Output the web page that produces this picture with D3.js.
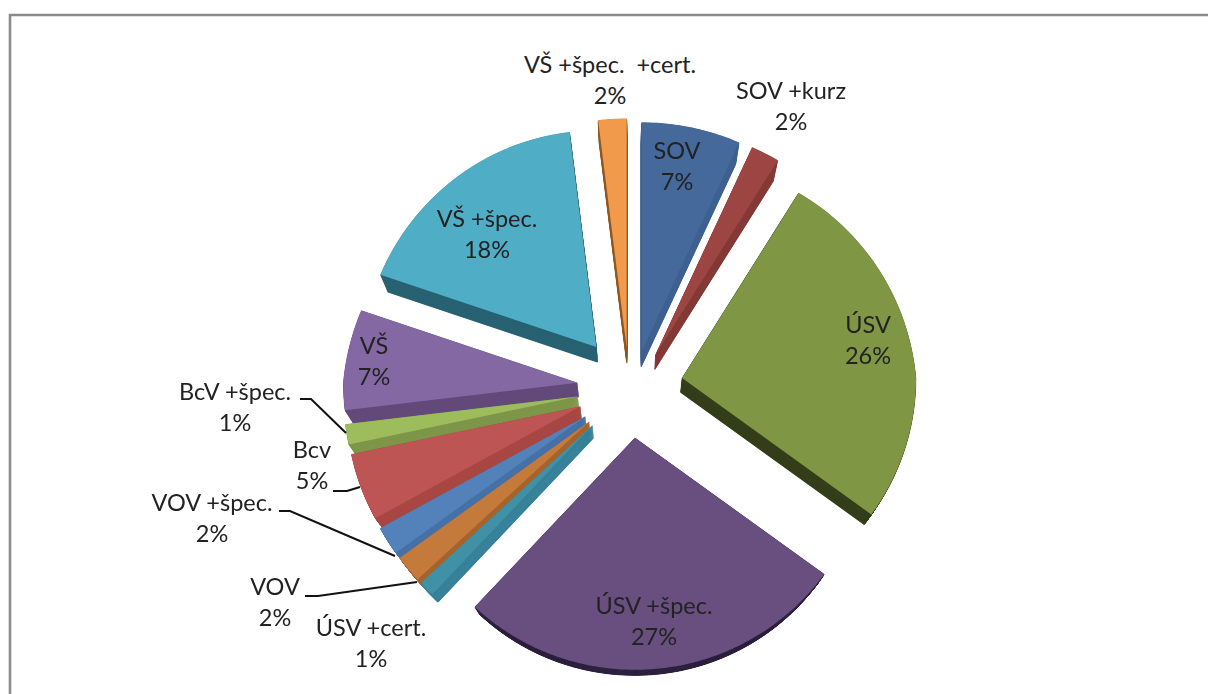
<!DOCTYPE html>
<html>
<head>
<meta charset="utf-8">
<script src="https://cdn.jsdelivr.net/npm/d3@7/dist/d3.min.js"></script>
<style>
html,body{margin:0;padding:0;background:#fff;overflow:hidden}
svg{display:block}
text{font-family:Lato,"Open Sans",sans-serif;font-size:23.5px;fill:#222;text-anchor:middle}
</style>
</head>
<body>
<svg id="chart" width="1208" height="694"></svg>
<script>
// data
const categories = ["SOV","SOV +kurz","ÚSV","ÚSV +špec.","ÚSV +cert.","VOV","VOV +špec.","Bcv","BcV +špec.","VŠ","VŠ +špec.","VŠ +špec.  +cert."];
const values = [7,2,26,27,1.1,1.9,2,4.7,1.4,7,17.9,2];
const percentLabels = ["7%","2%","26%","27%","1%","2%","2%","5%","1%","7%","18%","2%"];

// styles and layout
const faceColors = ["#44699b","#9c4543","#7f9645","#67507f","#3f90a6","#c47a3b","#5381b9","#bc5452","#9dbc5b","#8468a4","#50adc6","#f19a4b"];
const sideColors = ["#3f6292","#853936","#353f1b","#2f2340","#37829a","#a8642c","#4672a8","#a94845","#7e974a","#644b7b","#2a6373","#8e5a25"];
const pullY = [37,38,53,50,53,53,53,53,53,53,53,40];
const pullX = 53;
const sizeScale = [1.06,1.05,1,1,1,1,1,1,1,1,1,1.06];
const centre = {x:630, y:388};
const radius = {x:234, yUp:236, yDown:232};
const perspective = 0.09;
const vanish = {x:630, y:857};
const shrink = 0.97;
const labelAnchors = [[677,151],[791,91],[868,325],[654,606],[371,628],[275,587],[212,503],[312,450],[235,392],[374,346],[487,219],[610,65]];
const leaders = [
  [[300,399],[311,399],[346,433]],
  [[333,491],[347,491],[360,487]],
  [[279,511],[290,511],[395,556]],
  [[305,596],[318,596],[417,582]]
];

const svg = d3.select("#chart");

// frame
svg.append("path").attr("d","M10 694V15H1208").attr("fill","none").attr("stroke","#8c8c8c").attr("stroke-width",2.6);

const defs = svg.append("defs");
defs.append("filter").attr("id","soft").append("feGaussianBlur").attr("stdDeviation",0.45);

const pie = d3.pie().sort(null).value(d=>d)(values);
const tip = d => {
  const mid = (d.startAngle+d.endAngle)/2;
  return [centre.x + pullX*Math.sin(mid), centre.y - pullY[d.index]*Math.cos(mid)];
};
// wedge outline: apex plus rim samples, foreshortened where the rim leans away from the viewer
const wedge = d => {
  const [x,y] = tip(d);
  const k = sizeScale[d.index];
  const n = Math.max(4, Math.ceil((d.endAngle-d.startAngle)*60));
  const rim = d3.range(n+1).map(i=>{
    const a = d.startAngle + (d.endAngle-d.startAngle)*i/n;
    const u = Math.sin(a), v = Math.cos(a);
    const w = v>0 ? 1+perspective*v : 1;
    const ry = v>0 ? radius.yUp : radius.yDown;
    return [x + k*radius.x*u/w, y - k*ry*v/w];
  });
  return d3.line()([[x,y],...rim]) + "Z";
};
const depth = t => {
  const s = 1-(1-shrink)*t;
  return `translate(${vanish.x},${vanish.y}) scale(${s}) translate(${-vanish.x},${-vanish.y})`;
};

const steps = d3.range(1,0,-0.02);
const slices = svg.append("g").attr("filter","url(#soft)")
  .selectAll("g").data(pie.slice().reverse()).join("g");
slices.each(function(d){
  const g = d3.select(this);
  const shape = wedge(d);
  g.selectAll("path.side").data(steps).join("path")
    .attr("class","side")
    .attr("d",shape)
    .attr("transform",depth)
    .attr("fill",sideColors[d.index])
    .attr("stroke",sideColors[d.index])
    .attr("stroke-width",0.3);
  g.append("path")
    .attr("d",shape)
    .attr("fill",faceColors[d.index]);
});

// leader lines
svg.append("g").selectAll("path").data(leaders).join("path")
  .attr("d",d3.line())
  .attr("fill","none").attr("stroke","#111").attr("stroke-width",2);

// labels
const labels = svg.append("g").selectAll("g").data(categories).join("g")
  .attr("transform",(d,i)=>`translate(${labelAnchors[i][0]},${labelAnchors[i][1]})`);
labels.append("text").attr("dy","0.35em").text(d=>d).style("white-space","pre");
labels.append("text").attr("dy","0.35em").attr("y",31).text((d,i)=>percentLabels[i]);
</script>
</body>
</html>
